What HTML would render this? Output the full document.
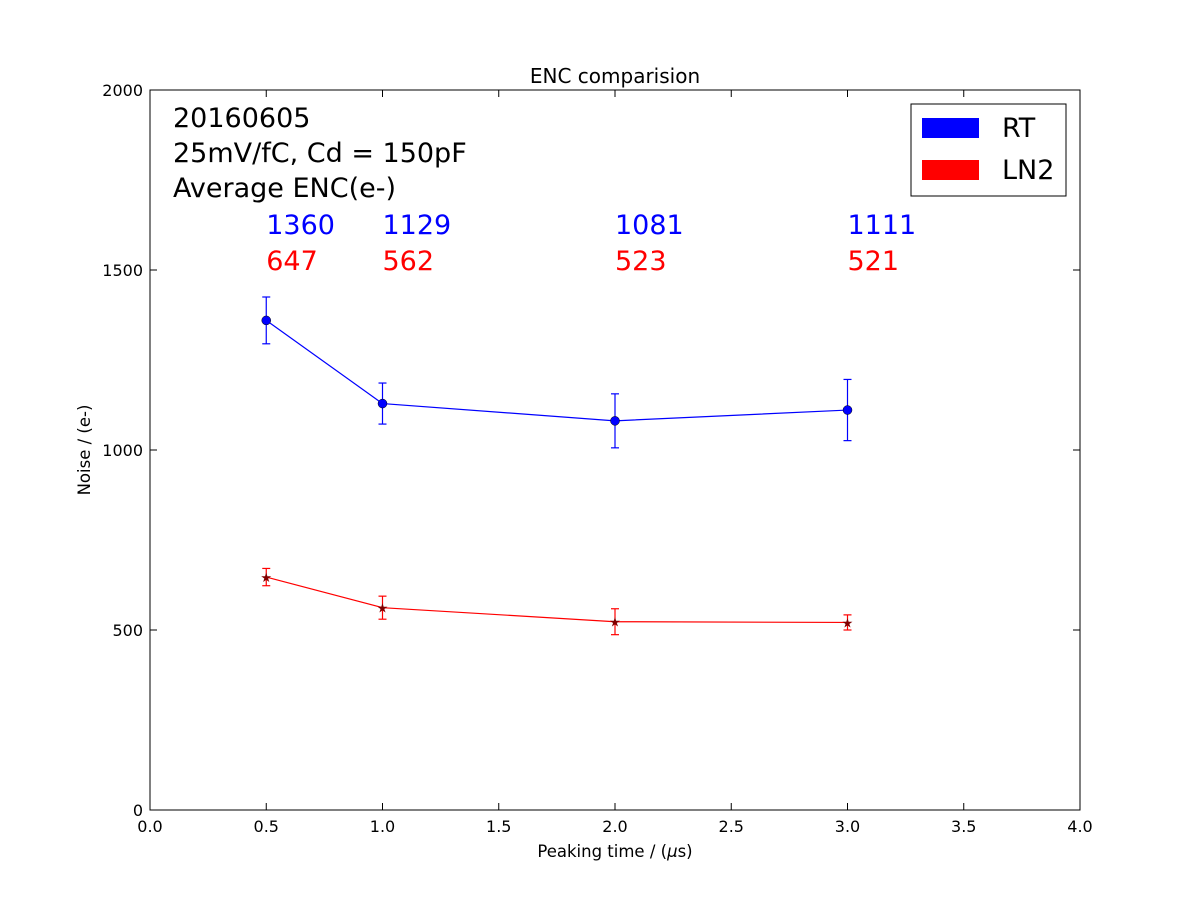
<!DOCTYPE html>
<html><head><meta charset="utf-8"><style>
body{margin:0;background:#fff;}
svg{display:block;font-family:"DejaVu Sans","Liberation Sans",sans-serif;}
</style></head><body>
<svg id="chart" width="1200" height="900">
<rect width="1200" height="900" fill="#fff"/>
<text x="615" y="83" text-anchor="middle" font-size="20">ENC comparision</text>
<g id="axes"></g>
<g id="series"></g>
<rect x="150" y="90" width="930" height="720" fill="none" stroke="#000" stroke-width="1"/>
<text x="173" y="127" font-size="27">20160605</text>
<text x="173" y="162" font-size="27">25mV/fC, Cd = 150pF</text>
<text x="173" y="197" font-size="27">Average ENC(e-)</text>
<g>
<rect x="911" y="104" width="155" height="92" fill="#fff" stroke="#000"/>
<rect x="922" y="118" width="57" height="20" fill="#0000ff"/>
<text x="1002" y="137" font-size="27">RT</text>
<rect x="922" y="160" width="57" height="20" fill="#ff0000"/>
<text x="1002" y="179" font-size="27">LN2</text>
</g>
<text x="615" y="857" text-anchor="middle" font-size="16.5">Peaking time / (<tspan font-style="italic">μ</tspan>s)</text>
<text transform="translate(90,450) rotate(-90)" text-anchor="middle" font-size="16.5">Noise /  (e-)</text>
</svg>
<script>
const xVals=[0.5,1.0,2.0,3.0];
const rtVals=[1360,1129,1081,1111];
const rtErr=[65,57,75,85];
const ln2Vals=[647,562,523,521];
const ln2Err=[24,32,36,21];
const xTicks=[0,0.5,1,1.5,2,2.5,3,3.5,4];
const yTicks=[0,500,1000,1500,2000];
const NS="http://www.w3.org/2000/svg";
const X=v=>150+v/4*930, Y=v=>810-v/2000*720;
function mk(t,a,p){const e=document.createElementNS(NS,t);for(const k in a)e.setAttribute(k,a[k]);p.appendChild(e);return e;}
const axes=document.getElementById('axes'), ser=document.getElementById('series');
xTicks.forEach(t=>{
 const g=mk('g',{},axes);
 
 
 mk('line',{x1:X(t),x2:X(t),y1:810,y2:803,stroke:'#000'},g);
 mk('line',{x1:X(t),x2:X(t),y1:90,y2:97,stroke:'#000'},g);
 const tx=mk('text',{x:X(t),y:832,'text-anchor':'middle','font-size':16},g);tx.textContent=t.toFixed(1);
});
yTicks.forEach(t=>{
 const g=mk('g',{},axes);
 
 
 mk('line',{x1:150,x2:157,y1:Y(t),y2:Y(t),stroke:'#000'},g);
 mk('line',{x1:1080,x2:1073,y1:Y(t),y2:Y(t),stroke:'#000'},g);
 const tx=mk('text',{x:143,y:Y(t)+6,'text-anchor':'end','font-size':16},g);tx.textContent=t;
});
function series(vals,errs,color,name,marker){
 const g=mk('g',{},ser);
 
 
 mk('polyline',{points:vals.map((v,i)=>X(xVals[i])+','+Y(v)).join(' '),fill:'none',stroke:color,'stroke-width':1.2},g);
 vals.forEach((v,i)=>{
  const x=X(xVals[i]);
  const eb=mk('g',{stroke:color,'stroke-width':1.2},g);
  
  
  mk('line',{x1:x,x2:x,y1:Y(v+errs[i]),y2:Y(v-errs[i])},eb);
  mk('line',{x1:x-4,x2:x+4,y1:Y(v+errs[i]),y2:Y(v+errs[i])},eb);
  mk('line',{x1:x-4,x2:x+4,y1:Y(v-errs[i]),y2:Y(v-errs[i])},eb);
  let m;
  if(marker==='circle') m=mk('circle',{cx:x,cy:Y(v),r:4.5,fill:color,stroke:'#000','stroke-width':0.5},g);
  else m=mk('text',{x:x,y:Y(v)+5,'text-anchor':'middle','font-size':13,fill:'#800000'},g),m.textContent='★';
  
  
 });
}
series(rtVals,rtErr,'#0000ff','rt','circle');
series(ln2Vals,ln2Err,'#ff0000','ln2','star');
xVals.forEach((xv,i)=>{
 const a=mk('text',{x:X(xv),y:234,'font-size':27,fill:'#0000ff'},ser);a.textContent=rtVals[i];
 
 
 const b=mk('text',{x:X(xv),y:270,'font-size':27,fill:'#ff0000'},ser);b.textContent=ln2Vals[i];
 
 
});
</script>
</body></html>
